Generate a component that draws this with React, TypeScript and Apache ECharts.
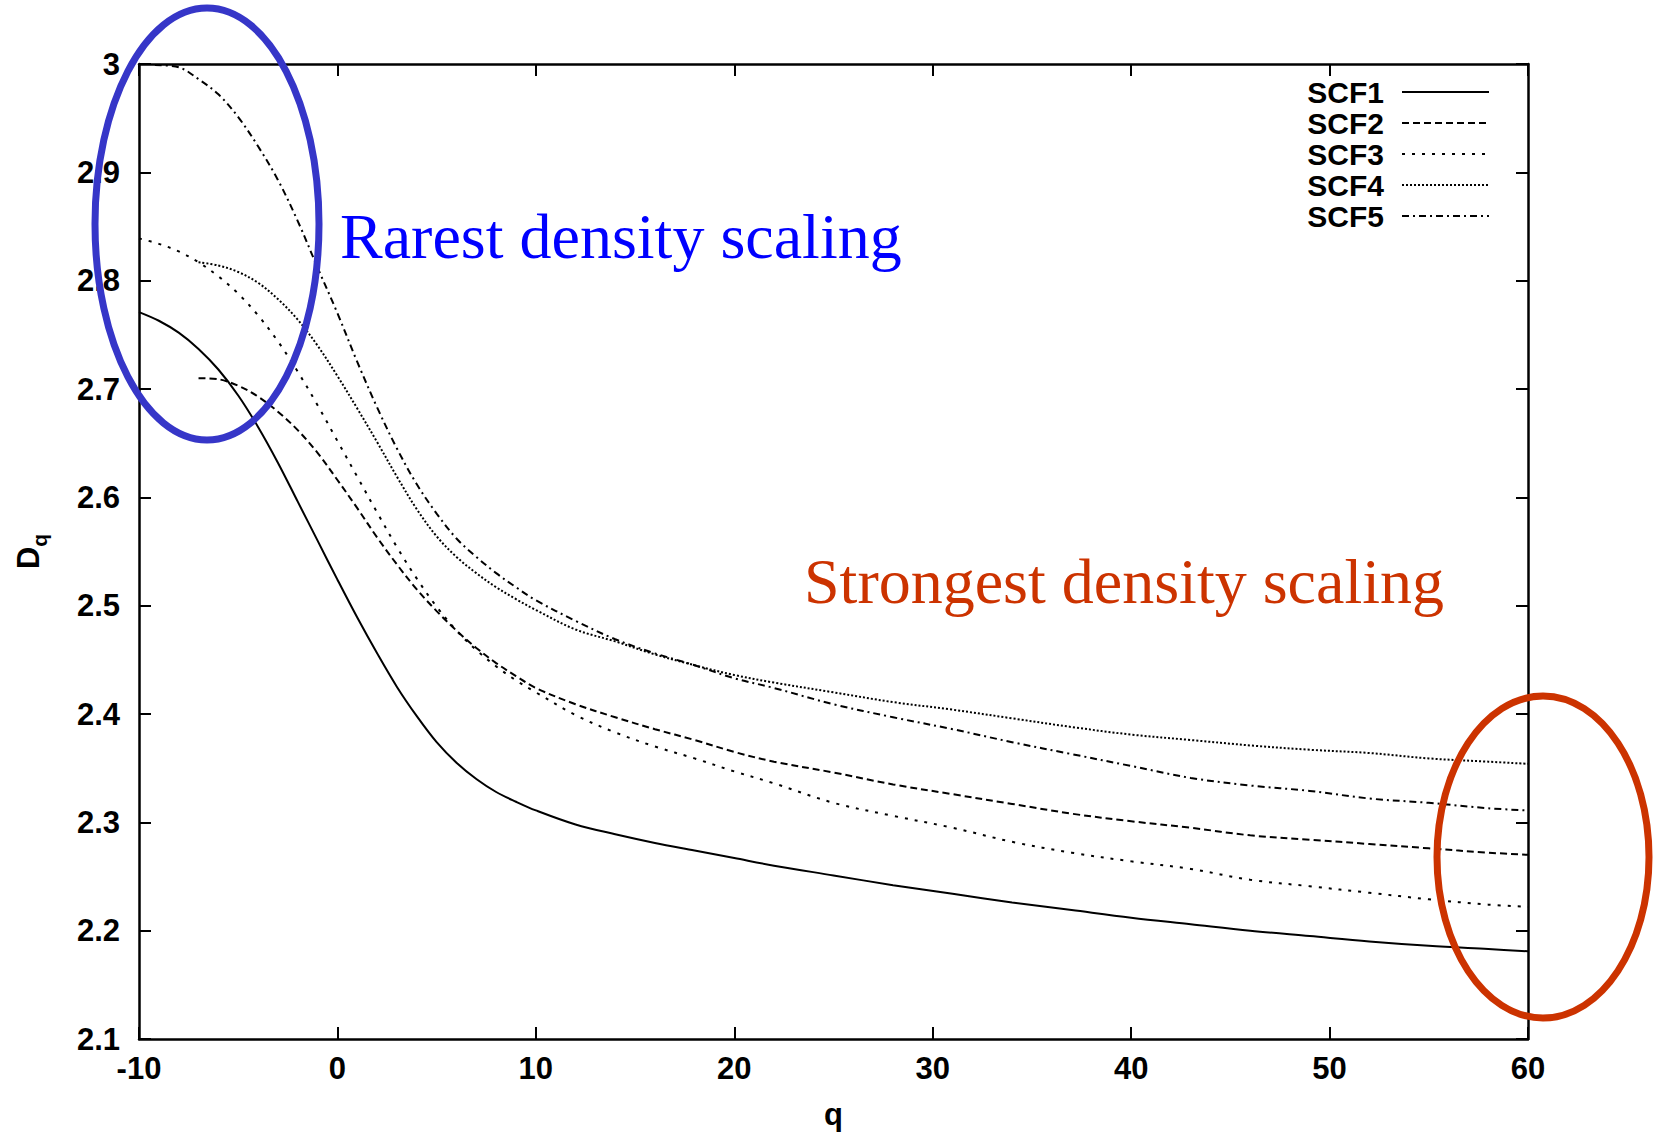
import React, { useEffect, useRef } from "react";
import * as echarts from "echarts";

// ---------- data ----------
const seriesNames = ["SCF1", "SCF2", "SCF3", "SCF4", "SCF5"];

const qSCF1 = [-10, -9, -8, -7, -6, -5, -4, -3, -2, -1, 0, 1, 2, 3, 4, 5, 6, 7, 8, 9, 10, 12, 14, 16, 18, 20, 22, 25, 28, 31, 34, 37, 40, 43, 46, 49, 52, 55, 58, 60];
const dSCF1 = [2.771, 2.763, 2.752, 2.737, 2.718, 2.694, 2.665, 2.632, 2.596, 2.56, 2.524, 2.489, 2.456, 2.425, 2.398, 2.374, 2.355, 2.34, 2.328, 2.319, 2.311, 2.298, 2.289, 2.281, 2.274, 2.267, 2.26, 2.251, 2.242, 2.234, 2.226, 2.219, 2.212, 2.206, 2.2, 2.195, 2.19, 2.186, 2.183, 2.181];

const qSCF2 = [-7, -6, -5, -4, -3, -2, -1, 0, 1, 2, 3, 4, 5, 6, 7, 8, 9, 10, 12, 14, 16, 18, 20, 22, 25, 28, 31, 34, 37, 40, 43, 46, 49, 52, 55, 58, 60];
const dSCF2 = [2.71, 2.709, 2.703, 2.693, 2.679, 2.662, 2.641, 2.616, 2.59, 2.563, 2.538, 2.515, 2.495, 2.477, 2.461, 2.447, 2.435, 2.424, 2.409, 2.397, 2.386, 2.376, 2.365, 2.356, 2.346, 2.335, 2.326, 2.317, 2.308, 2.301, 2.295, 2.288, 2.284, 2.28, 2.276, 2.272, 2.27];

const qSCF3 = [-10, -9, -8, -7, -6, -5, -4, -3, -2, -1, 0, 1, 2, 3, 4, 5, 6, 7, 8, 9, 10, 12, 14, 16, 18, 20, 22, 25, 28, 31, 34, 37, 40, 43, 46, 49, 52, 55, 58, 60];
const dSCF3 = [2.839, 2.834, 2.827, 2.817, 2.804, 2.788, 2.768, 2.744, 2.716, 2.685, 2.652, 2.619, 2.586, 2.554, 2.525, 2.499, 2.477, 2.459, 2.444, 2.431, 2.42, 2.399, 2.383, 2.37, 2.359, 2.347, 2.336, 2.318, 2.306, 2.295, 2.282, 2.272, 2.264, 2.257, 2.247, 2.241, 2.235, 2.229, 2.224, 2.222];

const qSCF4 = [-7, -6, -5, -4, -3, -2, -1, 0, 1, 2, 3, 4, 5, 6, 7, 8, 9, 10, 12, 14, 16, 18, 20, 22, 25, 28, 31, 34, 37, 40, 43, 46, 49, 52, 55, 58, 60];
const dSCF4 = [2.817, 2.814, 2.808, 2.798, 2.783, 2.764, 2.74, 2.712, 2.682, 2.651, 2.619, 2.589, 2.564, 2.545, 2.53, 2.517, 2.506, 2.496, 2.478, 2.467, 2.455, 2.445, 2.436, 2.429, 2.42, 2.411, 2.404, 2.396, 2.388, 2.381, 2.376, 2.371, 2.367, 2.364, 2.359, 2.356, 2.354];

const qSCF5 = [-9.2, -8, -7, -6, -5, -4, -3, -2, -1, 0, 1, 2, 3, 4, 5, 6, 7, 8, 9, 10, 12, 14, 16, 18, 20, 22, 25, 28, 31, 34, 37, 40, 43, 46, 49, 52, 55, 58, 60];
const dSCF5 = [2.999, 2.997, 2.986, 2.972, 2.951, 2.924, 2.893, 2.855, 2.812, 2.77, 2.725, 2.683, 2.645, 2.612, 2.585, 2.562, 2.545, 2.53, 2.517, 2.505, 2.486, 2.469, 2.456, 2.445, 2.433, 2.424, 2.409, 2.397, 2.386, 2.374, 2.363, 2.352, 2.341, 2.334, 2.329, 2.322, 2.318, 2.313, 2.311];

const qValues = [qSCF1, qSCF2, qSCF3, qSCF4, qSCF5];
const dValues = [dSCF1, dSCF2, dSCF3, dSCF4, dSCF5];

const xMin = -10;
const xMax = 60;
const xStep = 10;
const yMin = 2.1;
const yMax = 3;
const yStep = 0.1;

const xName = "q";
const noteRare = "Rarest density scaling";
const noteStrong = "Strongest density scaling";

export default function App() {
  const ref = useRef<HTMLDivElement>(null);

  useEffect(() => {
    if (!ref.current) return;
    const chart = echarts.init(ref.current, null, { renderer: "svg" });
    const sans = "'Liberation Sans', Arial, Helvetica, sans-serif";
    const serif = "'Liberation Serif', 'Times New Roman', serif";
    const axisLine = { show: true, onZero: false, lineStyle: { color: "#000", width: 2.5 } };
    const axisTick = { show: true, inside: true, length: 12, lineStyle: { color: "#000", width: 2 } };
    const label = { color: "#000", fontFamily: sans, fontWeight: "bold" as const, fontSize: 31 };
    const dashes: any[] = ["solid", [7, 4], [3, 7], [2, 2], [7, 4, 2, 4]];

    chart.setOption({
      animation: false,
      backgroundColor: "#fff",
      grid: { left: 139, top: 64, width: 1389, height: 975, containLabel: false },
      legend: {
        orient: "vertical",
        right: 168,
        top: 77,
        align: "right",
        padding: 0,
        itemWidth: 87,
        itemHeight: 14,
        itemGap: 1,
        selectedMode: false,
        data: seriesNames,
        itemStyle: { opacity: 0, borderWidth: 0 },
        textStyle: { ...label, fontSize: 30, lineHeight: 30, padding: [0, 13, 0, 0] },
      },
      xAxis: [
        {
          type: "value",
          min: xMin,
          max: xMax,
          interval: xStep,
          position: "bottom",
          axisLine,
          axisTick,
          splitLine: { show: false },
          axisLabel: { ...label, margin: 14 },
          name: xName,
          nameLocation: "middle",
          nameGap: 60,
          nameTextStyle: { ...label },
        },
        {
          type: "value",
          min: xMin,
          max: xMax,
          interval: xStep,
          position: "top",
          axisLine,
          axisTick,
          splitLine: { show: false },
          axisLabel: { show: false },
        },
      ],
      yAxis: [
        {
          type: "value",
          min: yMin,
          max: yMax,
          interval: yStep,
          position: "left",
          axisLine,
          axisTick,
          splitLine: { show: false },
          axisLabel: {
            ...label,
            margin: 19,
            formatter: (v: number) => String(+v.toFixed(1)),
          },
          name: "{a|D}{b|q}",
          nameLocation: "middle",
          nameGap: 89,
          nameRotate: 90,
          nameTextStyle: {
            ...label,
            rich: {
              a: { ...label, fontSize: 31, lineHeight: 44, verticalAlign: "middle" },
              b: { ...label, fontSize: 21, lineHeight: 21, verticalAlign: "bottom" },
            },
          },
        },
        {
          type: "value",
          min: yMin,
          max: yMax,
          interval: yStep,
          position: "right",
          axisLine,
          axisTick,
          splitLine: { show: false },
          axisLabel: { show: false },
        },
      ],
      series: seriesNames.map((name, i) => ({
        name,
        type: "line",
        xAxisIndex: 0,
        yAxisIndex: 0,
        data: qValues[i].map((q, j) => [q, dValues[i][j]]),
        symbol: "none",
        showSymbol: false,
        smooth: 0.35,
        silent: true,
        itemStyle: { color: "#000" },
        lineStyle: { color: "#000", width: 2, type: dashes[i] },
      })),
      graphic: [
        {
          type: "ellipse",
          z: 10,
          shape: { cx: 207, cy: 224, rx: 112, ry: 216 },
          style: { fill: "none", stroke: "#3636c8", lineWidth: 7 },
        },
        {
          type: "text",
          z: 10,
          x: 340,
          y: 236,
          style: {
            text: noteRare,
            fill: "#0000ff",
            fontFamily: serif,
            fontSize: 64,
            align: "left",
            verticalAlign: "middle",
          },
        },
        {
          type: "ellipse",
          z: 10,
          shape: { cx: 1543, cy: 857, rx: 106, ry: 161 },
          style: { fill: "none", stroke: "#cc3300", lineWidth: 7 },
        },
        {
          type: "text",
          z: 10,
          x: 804,
          y: 581,
          style: {
            text: noteStrong,
            fill: "#cc3300",
            fontFamily: serif,
            fontSize: 64,
            align: "left",
            verticalAlign: "middle",
          },
        },
      ],
    });

    return () => chart.dispose();
  }, []);

  return (
    <div
      ref={ref}
      style={{ position: "fixed", left: 0, top: 0, width: 1658, height: 1135 }}
    />
  );
}
